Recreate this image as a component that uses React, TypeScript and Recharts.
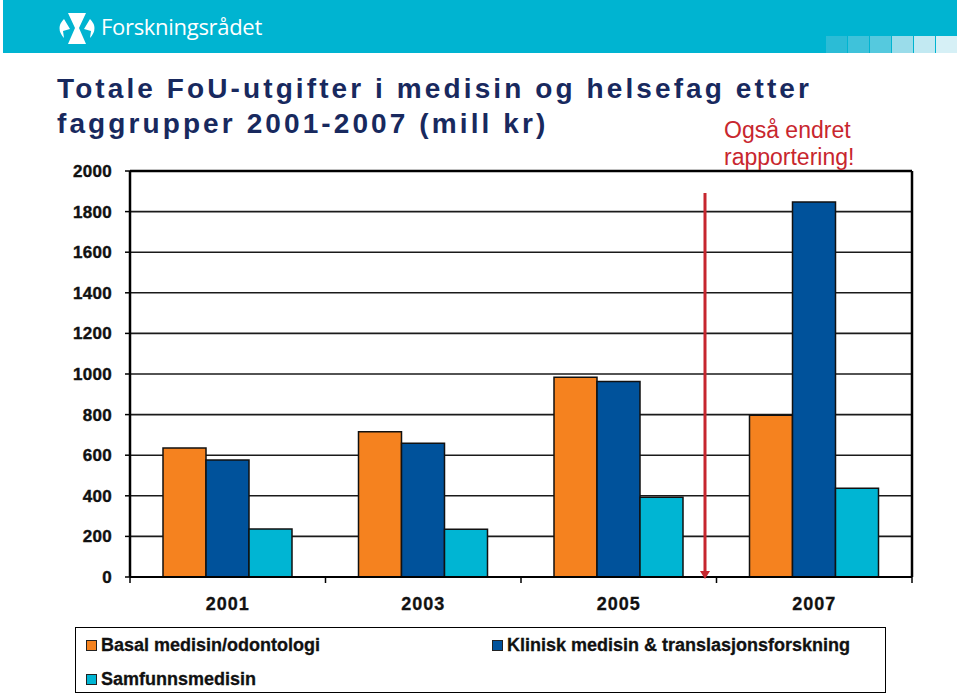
import React from "react";
import {
  Bar,
  BarChart,
  CartesianGrid,
  ReferenceLine,
  XAxis,
  YAxis,
} from "recharts";

const years = ["2001", "2003", "2005", "2007"];
const basal = [635, 716, 984, 797];
const klinisk = [576, 659, 963, 1847];
const samfunn = [236, 235, 393, 437];
const yTicks = [0, 200, 400, 600, 800, 1000, 1200, 1400, 1600, 1800, 2000];

const SERIES = [
  { key: "basal", name: "Basal medisin/odontologi", color: "#f5821f" },
  { key: "klinisk", name: "Klinisk medisin & translasjonsforskning", color: "#00529b" },
  { key: "samfunn", name: "Samfunnsmedisin", color: "#00b5d3" },
];

const data = years.map((y, i) => ({
  year: y,
  basal: basal[i],
  klinisk: klinisk[i],
  samfunn: samfunn[i],
}));

const FONT = '"Liberation Sans", Arial, sans-serif';
const PLOT_LEFT = 130;
const PLOT_RIGHT = 912;
const BAND = (PLOT_RIGHT - PLOT_LEFT) / years.length;

const XTick = (props: any) => {
  const { x, y, payload, index } = props;
  return (
    <g>
      <line x1={x - BAND / 2} x2={x - BAND / 2} y1={y} y2={y + 6} stroke="#000" strokeWidth={1.5} />
      {index === years.length - 1 && (
        <line x1={x + BAND / 2} x2={x + BAND / 2} y1={y} y2={y + 6} stroke="#000" strokeWidth={1.5} />
      )}
      <text
        x={x}
        y={y + 33}
        textAnchor="middle"
        fontFamily={FONT}
        fontWeight="bold"
        fontSize={18}
        letterSpacing={1}
        fill="#111"
        stroke="#111"
        strokeWidth={0.3}
      >
        {payload.value}
      </text>
    </g>
  );
};

// legend drawn as a plain box so it does not shrink the plot area
const LegendBox = () => (
  <div
    style={{
      position: "absolute",
      left: 75,
      top: 627,
      width: 811,
      height: 66,
      border: "1.5px solid #000",
      boxSizing: "border-box",
      background: "#fff",
      fontFamily: FONT,
      fontWeight: "bold",
      fontSize: 18,
      color: "#111",
      WebkitTextStroke: "0.3px #111",
    }}
  >
    {SERIES.map((s, i) => (
      <div
        key={s.key}
        style={{
          position: "absolute",
          left: i === 1 ? 416 : 10,
          top: i === 2 ? 41 : 7,
          lineHeight: "20px",
          display: "flex",
          alignItems: "center",
          whiteSpace: "nowrap",
        }}
      >
        <span
          style={{
            display: "inline-block",
            width: 9,
            height: 9,
            background: s.color,
            border: "1.5px solid #222",
            marginRight: 4,
            marginTop: 1,
          }}
        />
        {s.name}
      </div>
    ))}
  </div>
);

const Header = () => (
  <svg width={960} height={56} style={{ position: "absolute", left: 0, top: 0 }}>
    <rect x={3} y={0} width={954} height={53} fill="#00b4d1" />
    {["#2bbcd6", "#3fc2da", "#55c9de", "#9adcea", "#c2e9f2", "#d6f0f6"].map((c, i) => (
      <rect key={i} x={826 + i * 22} y={36} width={21} height={17} fill={c} />
    ))}
    <g fill="#fff">
      <path d="M68 13 L86 13 L79 28 L86 44 L68 44 L75 28 Z" />
      <path d="M64 19 Q55 28 64 38 L63 31 L70 29 Z" />
      <path d="M90 19 Q99 28 90 38 L91 31 L84 29 Z" />
    </g>
    <text x={101} y={35} fill="#fff" fontFamily='"Open Sans", sans-serif' fontSize={22} letterSpacing={-0.3}>
      Forskningsrådet
    </text>
  </svg>
);

export default function App() {
  return (
    <div
      style={{
        position: "absolute",
        left: 0,
        top: 0,
        width: 960,
        height: 693,
        background: "#fff",
        overflow: "hidden",
      }}
    >
      <Header />
      <div
        style={{
          position: "absolute",
          left: 57,
          top: 71,
          fontFamily: FONT,
          fontWeight: "bold",
          fontSize: 28,
          letterSpacing: 3.1,
          lineHeight: "35px",
          color: "#18295e",
          whiteSpace: "nowrap",
        }}
      >
        Totale FoU-utgifter i medisin og helsefag etter
        <br />
        faggrupper 2001-2007 (mill kr)
      </div>
      <BarChart
        width={960}
        height={693}
        data={data}
        margin={{ top: 171, right: 46, bottom: 76, left: 0 }}
        barCategoryGap={33}
        barGap={0}
        style={{ position: "absolute", left: 0, top: 0 }}
      >
        <CartesianGrid vertical={false} stroke="#1a1a1a" strokeWidth={1.6} />
        <XAxis
          dataKey="year"
          height={40}
          tickSize={0}
          tickMargin={0}
          tick={<XTick />}
          axisLine={{ stroke: "#000", strokeWidth: 2 }}
          interval={0}
        />
        <YAxis
          width={130}
          domain={[0, 2000]}
          ticks={yTicks}
          tickSize={5}
          tickMargin={13}
          interval={0}
          axisLine={{ stroke: "#000", strokeWidth: 2.5 }}
          tickLine={{ stroke: "#000", strokeWidth: 1.5 }}
          tick={{
            fontFamily: FONT,
            fontWeight: "bold",
            fontSize: 17,
            fill: "#111",
            stroke: "#111",
            strokeWidth: 0.4,
            letterSpacing: 0.3,
          }}
        />
        <YAxis
          yAxisId="right"
          orientation="right"
          width={2}
          domain={[0, 2000]}
          tick={false}
          tickLine={false}
          axisLine={{ stroke: "#000", strokeWidth: 2.5 }}
        />
        <ReferenceLine y={2000} stroke="#000" strokeWidth={2.5} />
        {SERIES.map(s => (
          <Bar
            key={s.key}
            dataKey={s.key}
            name={s.name}
            fill={s.color}
            stroke="#111"
            strokeWidth={1.5}
            isAnimationActive={false}
          />
        ))}
      </BarChart>
      <svg width={960} height={693} style={{ position: "absolute", left: 0, top: 0, pointerEvents: "none" }}>
        <line x1={705} y1={193} x2={705} y2={571} stroke="#c6262e" strokeWidth={3} />
        <path d="M700 571 L710 571 L705 579 Z" fill="#c6262e" />
      </svg>
      <div
        style={{
          position: "absolute",
          left: 724,
          top: 117,
          fontFamily: FONT,
          fontSize: 23,
          lineHeight: "27px",
          color: "#c8262e",
          whiteSpace: "nowrap",
        }}
      >
        Også endret
        <br />
        rapportering!
      </div>
      <LegendBox />
    </div>
  );
}
